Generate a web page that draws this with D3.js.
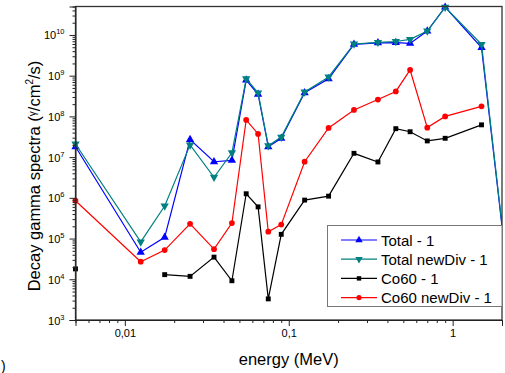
<!DOCTYPE html>
<html>
<head>
<meta charset="utf-8">
<script src="https://cdn.jsdelivr.net/npm/d3@7/dist/d3.min.js"></script>
<style>
  html, body { margin: 0; padding: 0; background: #ffffff; }
  svg { display: block; font-family: Arial, "Liberation Sans", sans-serif; }
</style>
</head>
<body>
<svg id="chart" width="505" height="373"></svg>
<script>
// ---- data ----
const energy = [0.005, 0.0125, 0.0175, 0.025, 0.035, 0.045, 0.055, 0.065, 0.075, 0.09,
                0.125, 0.175, 0.25, 0.35, 0.45, 0.55, 0.7, 0.9, 1.5, 2.5];
const total = [1.8e7, 4.6e4, 1.07e5, 2.7e7, 7.7e6, 8.3e6, 7.8e8, 3.5e8, 1.8e7, 2.9e7,
               3.8e8, 8.4e8, 5.9e9, 6.4e9, 6.5e9, 6.2e9, 1.25e10, 4.8e10, 4.9e9, 80];
const totalNewDiv = [2.1e7, 8.3e4, 6.3e5, 2.0e7, 3.2e6, 1.28e7, 8.4e8, 3.8e8, 1.9e7, 3.1e7,
                     4.0e8, 9.3e8, 6.0e9, 6.6e9, 6.9e9, 7.8e9, 1.25e10, 4.8e10, 5.9e9, 80];
const co60 = [1.8e4, null, 1.3e4, 1.18e4, 3.5e4, 9.2e3, 1.26e6, 6.0e5, 3.3e3, 1.27e5,
              8.8e5, 1.1e6, 1.24e7, 7.6e6, 5.0e7, 4.2e7, 2.5e7, 2.9e7, 6.2e7, null];
const co60NewDiv = [8.5e5, 2.7e4, 5.2e4, 2.3e5, 5.5e4, 2.4e5, 8.2e7, 3.7e7, 1.47e5, 2.2e5,
                    7.7e6, 5.2e7, 1.44e8, 2.6e8, 4.1e8, 1.38e9, 5.3e7, 1.0e8, 1.77e8, null];
const seriesNames = ["Total - 1", "Total newDiv - 1", "Co60 - 1", "Co60 newDiv - 1"];
const xTickValues = [0.01, 0.1, 1];
const xTickLabels = ["0,01", "0,1", "1"];
const yTickExponents = [3, 4, 5, 6, 7, 8, 9, 10];
const xTitle = "energy (MeV)";

// ---- layout ----
const L = 75.5, T = 6.5, R = 502, B = 320;
const svg = d3.select("#chart");

const x = d3.scaleLog().domain([0.005, 2]).range([L, R]);
const y = d3.scaleLog().domain([1e3, 5e10]).range([B, T]);

const series = [
  { name: seriesNames[0], values: total, color: "#0000ff", sym: d3.symbolTriangle, rot: 0, size: 30 },
  { name: seriesNames[1], values: totalNewDiv, color: "#008080", sym: d3.symbolTriangle, rot: 180, size: 30 },
  { name: seriesNames[2], values: co60, color: "#000000", sym: d3.symbolSquare, rot: 0, size: 24 },
  { name: seriesNames[3], values: co60NewDiv, color: "#ff0000", sym: d3.symbolCircle, rot: 0, size: 26 }
];

svg.append("defs").append("clipPath").attr("id", "plotclip")
  .append("rect").attr("x", L).attr("y", T).attr("width", R - L).attr("height", B - T);

// ---- lines and markers ----
const gData = svg.append("g");
series.forEach(s => {
  const pts = energy.map((e, i) => ({ e, v: s.values[i] }));
  const line = d3.line()
    .defined(d => d.v != null && d.v > 0)
    .x(d => x(d.e)).y(d => y(d.v));
  gData.append("path")
    .attr("d", line(pts))
    .attr("fill", "none")
    .attr("stroke", s.color)
    .attr("stroke-width", 1.2)
    .attr("clip-path", "url(#plotclip)");
  gData.selectAll(null)
    .data(pts.filter(d => d.v != null && d.e <= 2))
    .enter().append("path")
    .attr("d", d3.symbol().type(s.sym).size(s.size))
    .attr("transform", d => `translate(${x(d.e)},${y(d.v)}) rotate(${s.rot})`)
    .attr("fill", s.color);
});

// ---- frame ----
svg.append("rect")
  .attr("x", L).attr("y", T).attr("width", R - L).attr("height", B - T)
  .attr("fill", "none").attr("stroke", "#333").attr("stroke-width", 1.3);

// ---- y axis ----
const yMinor = [];
for (let p = 3; p <= 10; p++) {
  for (let k = 2; k <= 9; k++) {
    const v = k * Math.pow(10, p);
    if (v <= 5e10) yMinor.push(v);
  }
}
const gy = svg.append("g").attr("transform", `translate(${L},0)`);
gy.call(d3.axisLeft(y).tickValues(yMinor).tickSize(3).tickFormat(""))
  .call(g => g.select(".domain").remove())
  .call(g => g.selectAll("line").attr("stroke", "#222"));
const gyMaj = svg.append("g").attr("transform", `translate(${L},0)`);
gyMaj.call(d3.axisLeft(y).tickValues(yTickExponents.map(p => Math.pow(10, p))).tickSize(6).tickFormat(""))
  .call(g => g.select(".domain").attr("stroke", "#222"))
  .call(g => g.selectAll("line").attr("stroke", "#222"));
gyMaj.selectAll(".tick").each(function(d, i) {
  const t = d3.select(this).append("text")
    .attr("x", -11).attr("y", 4)
    .attr("text-anchor", "end")
    .attr("fill", "#000")
    .style("font-size", "11px");
  t.append("tspan").text("10");
  t.append("tspan").text(String(yTickExponents[i]))
    .attr("dy", -5).style("font-size", "7.5px");
});

// ---- x axis ----
const xMinor = [];
[0.001, 0.01, 0.1, 1].forEach(dec => {
  for (let k = 2; k <= 9; k++) {
    const v = k * dec;
    if (v >= 0.005 && v <= 2) xMinor.push(v);
  }
});
const gx = svg.append("g").attr("transform", `translate(0,${B})`);
gx.call(d3.axisBottom(x).tickValues(xMinor).tickSize(3).tickFormat(""))
  .call(g => g.select(".domain").remove())
  .call(g => g.selectAll("line").attr("stroke", "#222"));
const gxMaj = svg.append("g").attr("transform", `translate(0,${B})`);
gxMaj.call(d3.axisBottom(x).tickValues(xTickValues).tickSize(6)
    .tickFormat((d, i) => xTickLabels[i]))
  .call(g => g.select(".domain").attr("stroke", "#222"))
  .call(g => g.selectAll("line").attr("stroke", "#222"))
  .call(g => g.selectAll("text").attr("fill", "#000").attr("dy", "0.71em").attr("y", 9)
    .style("font-size", "11px").style("font-family", "Arial, 'Liberation Sans', sans-serif"));

// ---- axis titles ----
svg.append("text")
  .attr("x", (L + R) / 2).attr("y", 365)
  .attr("text-anchor", "middle")
  .style("font-size", "16.5px")
  .text(xTitle);

const yt = svg.append("text")
  .attr("transform", "translate(40,176) rotate(-90)")
  .attr("text-anchor", "middle")
  .style("font-size", "16.5px");
yt.append("tspan").text("Decay gamma spectra (");
yt.append("tspan").text("γ").style("font-size", "10px").attr("dy", -4);
yt.append("tspan").text("/cm").style("font-size", "16.5px").attr("dy", 4);
yt.append("tspan").text("2").style("font-size", "10px").attr("dy", -7);
yt.append("tspan").text("/s)").style("font-size", "16.5px").attr("dy", 7);

// ---- legend ----
const lg = svg.append("g");
lg.append("rect")
  .attr("x", 327.5).attr("y", 225.5).attr("width", R - 327.5).attr("height", 81)
  .attr("fill", "#fff").attr("stroke", "#777").attr("stroke-width", 1);
series.forEach((s, i) => {
  const yy = 240 + i * 19.2;
  lg.append("line").attr("x1", 341).attr("x2", 377).attr("y1", yy).attr("y2", yy)
    .attr("stroke", s.color).attr("stroke-width", 1.2);
  lg.append("path")
    .attr("d", d3.symbol().type(s.sym).size(s.size * 0.8))
    .attr("transform", `translate(359,${yy}) rotate(${s.rot})`)
    .attr("fill", s.color);
  lg.append("text").attr("x", 381).attr("y", yy + 5.5)
    .style("font-size", "15px").text(s.name);
});

// panel label fragment at bottom-left
svg.append("text").attr("x", 1).attr("y", 371).style("font-size", "14px").text(")");
</script>
</body>
</html>
